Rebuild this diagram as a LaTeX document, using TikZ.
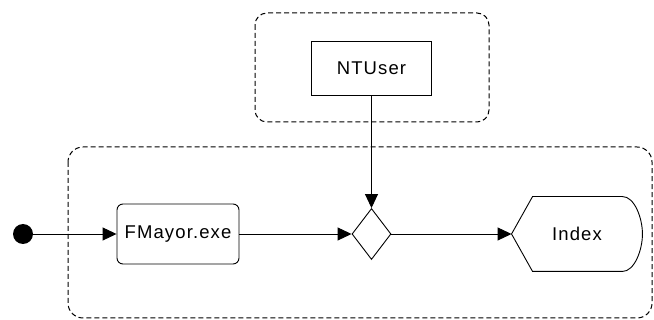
\documentclass[tikz,border=0pt]{standalone}
\usepackage{fontspec}
\setmainfont{Liberation Sans}[LetterSpace=6]
\usetikzlibrary{arrows.meta,shapes.geometric}
\begin{document}
\begin{tikzpicture}
			[x=1pt,y=-1pt,line width=0.9pt,
			font=\fontsize{18.5}{21}\selectfont,
			>={Triangle[length=14pt,width=13pt]},
			group/.style={draw,line width=1pt,dash pattern=on 5pt off 3pt},
			act/.style={draw,rounded corners=6pt,minimum width=122pt,minimum height=60pt,inner sep=0pt},
			obj/.style={draw,minimum width=120pt,minimum height=54pt,inner sep=0pt},
			dec/.style={diamond,draw,minimum width=39pt,minimum height=51pt,inner sep=0pt}]
			\useasboundingbox (0,0) rectangle (654,320);
			% swimlane frames
			\draw[group,rounded corners=12pt] (255,13) rectangle (489,122);
			\draw[group,rounded corners=15pt] (68,147) rectangle (652,318);
			% nodes
			\node[circle,fill=black,minimum size=20pt,inner sep=0pt,name=start] at (23,234) {};
			\node[act,name=fmayor] at (178,234) {FMayor.exe};
			\node[dec,name=merge] at (371.5,234) {};
			\node[obj,name=ntuser] at (371.5,68) {NTUser};
			\node[minimum width=130pt,minimum height=74pt,inner sep=0pt,name=index] at (577,234) {Index};
			\draw (index.west) -- ([xshift=21pt]index.north west) -- ([xshift=-20pt]index.north east)
				.. controls ([xshift=-8pt]index.north east) and ([yshift=16pt]index.east) .. (index.east)
				.. controls ([yshift=-16pt]index.east) and ([xshift=-8pt]index.south east) .. ([xshift=-20pt]index.south east)
				-- ([xshift=21pt]index.south west) -- cycle;
			% flows
			\draw[->] (start) -- (fmayor);
			\draw[->] (fmayor) -- (merge);
			\draw[->] (merge) -- (index);
			\draw[->] (ntuser) -- (merge);
		\end{tikzpicture}
\end{document}
